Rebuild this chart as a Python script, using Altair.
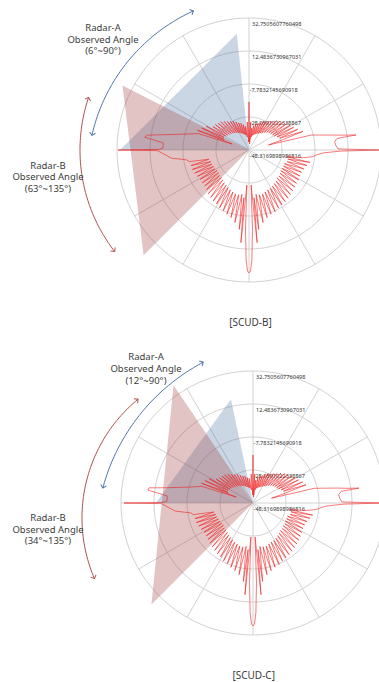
import altair as alt
import numpy as np
import pandas as pd

# ---------------- radial axis (dB) ----------------
R_MIN = -48.3169898986816
R_MAX = 32.7505607760498
RING_VALUES = [-28.0501022338867, -7.7832145690918, 12.4836730967031, 32.7505607760498]
TICK_VALUES = [32.7505607760498, 12.4836730967031, -7.7832145690918, -28.0501022338867, -48.3169898986816]
TICK_LABELS = ["32,7505607760498", "12,4836730967031", "-7,7832145690918",
               "-28,0501022338867", "-48,3169898986816"]
SPOKE_ANGLES = list(range(0, 360, 30))

# ---------------- RCS patterns (compass angle, clockwise from top) ----------------
ANGLES = [
    0, 1, 2, 3.5, 5, 7, 9, 11, 13, 15, 17, 19, 21, 23, 25, 27, 29, 31, 33, 35, 37, 39, 41, 43, 45,
    47, 49, 51, 53, 55, 57, 59, 61, 63, 65, 67, 69, 71, 73, 75.5, 76.5, 78, 80, 81, 82, 82.5, 84.5,
    87, 89.3, 90, 90.7, 92.3, 94, 96, 98, 100, 101.5, 103, 105, 107, 109, 111, 113, 115, 117, 119,
    121, 123, 125, 127, 129, 131, 133, 135, 137, 139, 141, 143, 145, 147, 149, 151, 153, 155, 157,
    159, 161, 163, 165, 167, 169, 171, 173, 174, 175, 176.5, 177.5, 178.5, 179.3, 180,
    180.7, 181.5, 182.5, 183.5, 185, 186, 187, 189, 191, 193, 195, 197, 199, 201, 203, 205, 207,
    209, 211, 213, 215, 217, 219, 221, 223, 225, 227, 229, 231, 233, 235, 237, 239, 241, 243, 245,
    247, 249, 251, 253, 255, 257, 259, 261, 264, 268.7, 269.6, 270, 270.4, 271.3, 274.7, 277, 278.3,
    280, 282, 285, 288, 289.5, 291, 293, 295, 297, 299, 301, 303, 305, 307, 309, 311, 313, 315, 317,
    319, 321, 323, 325, 327, 329, 331, 333, 335, 337, 339, 341, 343, 345, 347, 349, 351, 353, 355,
    356.5, 358, 359, 360,
]

RCS_SCUD_B = [
    -18.8, -36.0, -43.4, -31.1, -44.6, -34.8, -40.3, -33.0, -39.1, -31.7, -38.5, -31.1, -37.9, -29.9,
    -37.3, -28.7, -36.7, -28.0, -36.0, -26.8, -35.4, -25.6, -34.2, -23.7, -33.0, -22.5, -32.3, -21.3,
    -31.7, -20.1, -31.1, -18.8, -30.5, -17.6, -29.3, -15.8, -28.0, -13.3, -26.8, -36.0, -9.0, -4.1,
    4.5, 10.0, 18.0, 6.3, 4.5, 5.1, 6.3, 31.5, 7.6, -2.9, -6.6, -9.0, -14.5, -25.0, -10.2, -23.8,
    -11.5, -23.8, -12.7, -25.0, -13.3, -25.0, -13.3, -25.0, -12.7, -25.0, -12.7, -24.4, -12.1, -23.8,
    -11.5, -23.8, -10.9, -23.1, -10.2, -22.5, -9.6, -21.9, -9.0, -21.3, -8.4, -21.3, -7.2, -20.7,
    -6.6, -20.1, -5.3, -20.1, -2.9, -20.7, 0.8, -18.8, 8.8, -26.8, 0.8, 19.2, 26.0, 27.2,
    26.0, 19.2, 0.8, -26.8, 8.8, -18.8, 0.8, -20.7, -2.9, -20.1, -5.3, -20.1, -6.6, -20.7, -7.8,
    -21.3, -8.4, -21.9, -9.6, -22.5, -10.2, -23.1, -10.9, -23.8, -11.5, -24.4, -12.7, -24.4, -13.3,
    -25.0, -13.3, -25.0, -13.3, -24.4, -12.7, -24.4, -12.1, -23.8, -11.5, -23.8, -11.5, -23.1, -10.9,
    -9.6, -0.4, 6.3, 8.0, 32.1, 7.0, 4.5, 4.5, 16.2, 14.9, 5.7, -2.3, -10.2, -15.8, -37.3,
    -14.5, -31.7, -16.4, -31.1, -18.2, -31.7, -21.9, -32.3, -22.5, -33.0, -23.1, -33.6, -23.7, -34.2,
    -25.0, -34.8, -26.2, -35.4, -27.4, -36.0, -28.0, -36.7, -29.3, -37.3, -30.5, -37.9, -31.1, -38.5,
    -32.3, -39.1, -33.6, -40.3, -34.8, -31.1, -43.4, -36.0, -18.8,
]

RCS_SCUD_C = [
    -18.8, -36.6, -43.4, -30.5, -44.6, -34.2, -40.3, -32.3, -39.1, -31.1, -38.5, -30.5, -37.9, -29.3,
    -37.3, -28.0, -36.7, -27.4, -36.0, -26.2, -35.4, -25.0, -34.2, -23.1, -33.0, -21.9, -32.3, -20.7,
    -31.7, -19.5, -31.1, -18.2, -30.5, -17.0, -29.3, -15.2, -28.0, -13.9, -27.4, -36.6, -9.6, -4.7,
    4.5, 9.4, 17.4, 6.3, 4.5, 5.1, 6.3, 31.8, 7.6, -2.9, -6.6, -9.6, -15.2, -25.6, -10.9, -24.4,
    -12.1, -24.4, -13.3, -25.6, -13.9, -25.6, -13.9, -25.6, -13.3, -25.0, -12.7, -25.0, -12.1, -24.4,
    -11.5, -24.4, -10.9, -23.8, -10.2, -23.1, -9.6, -22.5, -9.0, -21.9, -8.4, -21.9, -7.2, -21.3,
    -6.6, -20.7, -5.3, -20.7, -3.5, -21.3, 0.2, -19.5, 8.2, -27.4, 0.8, 19.2, 26.0, 27.2,
    26.0, 19.2, 0.8, -27.4, 8.2, -19.5, 0.2, -21.3, -3.5, -20.7, -5.3, -20.7, -6.6, -21.3, -7.8,
    -21.9, -8.4, -22.5, -9.6, -23.1, -10.2, -23.8, -10.9, -24.4, -11.5, -25.0, -12.1, -25.0, -12.7,
    -25.6, -13.3, -25.6, -13.3, -25.0, -12.7, -25.0, -12.1, -24.4, -11.5, -24.4, -11.5, -23.8, -10.9,
    -9.6, -0.4, 6.3, 8.0, 30.9, 7.0, 4.5, 4.5, 16.8, 16.2, 5.7, -2.3, -10.2, -15.2, -37.3,
    -14.5, -31.7, -15.8, -31.1, -17.6, -31.7, -21.3, -32.3, -22.5, -33.0, -23.1, -33.6, -23.7, -34.2,
    -25.0, -34.8, -26.2, -35.4, -27.4, -36.0, -28.0, -36.7, -29.3, -37.3, -30.5, -37.9, -31.1, -38.5,
    -32.3, -39.1, -33.0, -40.3, -34.2, -30.5, -43.4, -36.6, -18.8,
]

# ---------------- radar coverage sectors (deg counter-clockwise from top) ----------------
MODELS = ["SCUD-B", "SCUD-C"]
RADAR_A_SPAN = {"SCUD-B": (6, 90), "SCUD-C": (12, 90)}
RADAR_B_SPAN = {"SCUD-B": (63, 135), "SCUD-C": (34, 135)}
RADAR_A_REACH = {"SCUD-B": (23.5, 30.9), "SCUD-C": (16.8, 11.3)}   # dB level of sector tips
RADAR_B_REACH = {"SCUD-B": (38.9, 43.2), "SCUD-C": (38.9, 39.9)}

# ---------------- layout ----------------
W, H = 379, 682
K = 132 / (R_MAX - R_MIN)                     # pixels per dB
CENTER_PX = {"SCUD-B": (249, 150), "SCUD-C": (253, 503)}
OX, OY = CENTER_PX["SCUD-B"]


def ux(px):
    return (px - OX) / K


def uy(py):
    return (OY - py) / K


XS = alt.Scale(domain=[ux(0), ux(W)], nice=False, zero=False)
YS = alt.Scale(domain=[uy(H), uy(0)], nice=False, zero=False)
CENTER_U = {m: (ux(p[0]), uy(p[1])) for m, p in CENTER_PX.items()}

BLUE_FILL, BROWN_FILL = "#3f6a9e", "#9e3a3a"
BLUE_LINE, RED_LINE = "#4e74ab", "#b24f4f"
CURVE = "#f02020"
GRID = "#d2d2d2"
TEXT = "#3c3c3c"
FONT = "Noto Sans"


def polar(chart):
    return chart.transform_calculate(rr=f"datum.db - ({R_MIN})").transform_calculate(
        px="datum.cx + datum.rr * sin(datum.ang * PI / 180)",
        py="datum.cy + datum.rr * cos(datum.ang * PI / 180)",
    )


def xy():
    return dict(x=alt.X("px:Q", scale=XS, axis=None), y=alt.Y("py:Q", scale=YS, axis=None))


# ---- tables ----
curve_rows = []
for m, vals in (("SCUD-B", RCS_SCUD_B), ("SCUD-C", RCS_SCUD_C)):
    cx, cy = CENTER_U[m]
    for i, (a, v) in enumerate(zip(ANGLES, vals)):
        curve_rows.append(dict(panel=m, i=i, ang=a, db=v, cx=cx, cy=cy))
curve_df = pd.DataFrame(curve_rows)

ring_rows = []
for m in MODELS:
    cx, cy = CENTER_U[m]
    for j, v in enumerate(RING_VALUES):
        for i, a in enumerate(range(0, 361, 3)):
            ring_rows.append(dict(key=f"{m}-{j}", i=i, ang=a, db=v, cx=cx, cy=cy))
ring_df = pd.DataFrame(ring_rows)

spoke_rows = []
for m in MODELS:
    cx, cy = CENTER_U[m]
    for a in SPOKE_ANGLES:
        for i, v in enumerate((R_MIN, R_MAX)):
            spoke_rows.append(dict(key=f"{m}-{a}", i=i, ang=a, db=v, cx=cx, cy=cy))
spoke_df = pd.DataFrame(spoke_rows)


def sector_df(span, reach):
    rows = []
    for m in MODELS:
        cx, cy = CENTER_U[m]
        a0, a1 = span[m]
        d0, d1 = reach[m]
        pts = [(0, R_MIN), (360 - a0, d0), (360 - a1, d1)]
        for i, (a, v) in enumerate(pts):
            rows.append(dict(key=m, i=i, ang=a, db=v, cx=cx, cy=cy))
    return pd.DataFrame(rows)


sector_a = sector_df(RADAR_A_SPAN, RADAR_A_REACH)
sector_b = sector_df(RADAR_B_SPAN, RADAR_B_REACH)

tick_rows = []
for m in MODELS:
    cx, cy = CENTER_U[m]
    for v, lab in zip(TICK_VALUES, TICK_LABELS):
        tick_rows.append(dict(label=lab, px=cx + (0.6 if v < 0 else 3) / K,
                              py=cy + (v - R_MIN) - 6 / K))
tick_df = pd.DataFrame(tick_rows)

# curved double-headed arrows: arc centre offset (px) from polar centre, radius, compass span
ARROWS = [
    ("SCUD-B", BLUE_LINE, 18.5, 25, 180, 282.7, 335.7),
    ("SCUD-B", RED_LINE, -3, 0, 166, 232.3, 288.5),
    ("SCUD-C", BLUE_LINE, 44, 37, 201, 285.0, 332.2),
    ("SCUD-C", RED_LINE, -17, 15, 154, 246.8, 320.5),
]
arc_rows, head_rows = [], []
for n, (m, col, dxo, dyo, r, p0, p1) in enumerate(ARROWS):
    acx = CENTER_PX[m][0] + dxo
    acy = CENTER_PX[m][1] + dyo
    for i, p in enumerate(np.linspace(p0, p1, 60)):
        t = np.radians(p)
        arc_rows.append(dict(key=n, i=i, col=col,
                             px=ux(acx + r * np.sin(t)), py=uy(acy - r * np.cos(t))))
    for p, rot in ((p0, p0 - 90), (p1, p1 + 90)):
        t = np.radians(p)
        head_rows.append(dict(col=col, rot=rot % 360,
                              px=ux(acx + r * np.sin(t)), py=uy(acy - r * np.cos(t))))
arc_df = pd.DataFrame(arc_rows)
head_df = pd.DataFrame(head_rows)

# ---- layers ----
rings = polar(alt.Chart(ring_df)).mark_line(color=GRID, strokeWidth=1, clip=True).encode(
    **xy(), detail="key:N", order="i:Q")
spokes = polar(alt.Chart(spoke_df)).mark_line(color=GRID, strokeWidth=1, clip=True).encode(
    **xy(), detail="key:N", order="i:Q")

ticks = alt.Chart(tick_df).mark_text(align="left", baseline="middle", fontSize=5.6,
                                      color="#333333", font=FONT).encode(**xy(), text="label:N")

fill_a = polar(alt.Chart(sector_a)).mark_line(
    fill=BLUE_FILL, fillOpacity=0.28, strokeOpacity=0, interpolate="linear-closed").encode(
    **xy(), detail="key:N", order="i:Q")
fill_b = polar(alt.Chart(sector_b)).mark_line(
    fill=BROWN_FILL, fillOpacity=0.3, strokeOpacity=0, interpolate="linear-closed").encode(
    **xy(), detail="key:N", order="i:Q")

rcs = polar(alt.Chart(curve_df)).mark_line(color=CURVE, strokeWidth=0.6, clip=True).encode(
    **xy(), detail="panel:N", order="i:Q")

arcs = alt.Chart(arc_df).mark_line(strokeWidth=1).encode(
    **xy(), detail="key:N", order="i:Q", color=alt.Color("col:N", scale=None))
heads = alt.Chart(head_df).mark_point(
    shape="M-1,1L0,0L1,1", size=34, filled=False, strokeWidth=1, opacity=1).encode(
    **xy(), angle=alt.Angle("rot:Q", scale=None), color=alt.Color("col:N", scale=None))

# annotation blocks: one text mark per line
texts = []
LABEL_POS = {("SCUD-B", "A"): (103, 28.0), ("SCUD-B", "B"): (48, 165.5),
             ("SCUD-C", "A"): (146, 357.2), ("SCUD-C", "B"): (48, 518.0)}
LINE_STEP = 11.7
for m in MODELS:
    for radar, span in (("A", RADAR_A_SPAN[m]), ("B", RADAR_B_SPAN[m])):
        x0, y0 = LABEL_POS[(m, radar)]
        lines = [f"Radar-{radar}", "Observed Angle", f"({span[0]}°~{span[1]}°)"]
        for k, line in enumerate(lines):
            texts.append(alt.Chart(pd.DataFrame({"t": [line]})).mark_text(
                align="center", baseline="middle", fontSize=9.5,
                color=TEXT, font=FONT).encode(
                text="t:N", x=alt.value(x0), y=alt.value(y0 + k * LINE_STEP)))
TITLE_POS = {"SCUD-B": (250.5, 322.7), "SCUD-C": (253.7, 676)}
for m in MODELS:
    x0, y0 = TITLE_POS[m]
    texts.append(alt.Chart(pd.DataFrame({"t": [f"[{m}]"]})).mark_text(
        align="center", baseline="middle", fontSize=10, color=TEXT, font=FONT).encode(
        text="t:N", x=alt.value(x0), y=alt.value(y0)))

chart = alt.layer(rings, spokes, ticks, fill_a, fill_b, rcs, arcs, heads, *texts).properties(
    width=W, height=H, padding=0, autosize=alt.AutoSizeParams(type="none"),
    background="white",
).configure_view(stroke=None)

chart.save("out.html", embed_options={"renderer": "svg", "actions": False})
